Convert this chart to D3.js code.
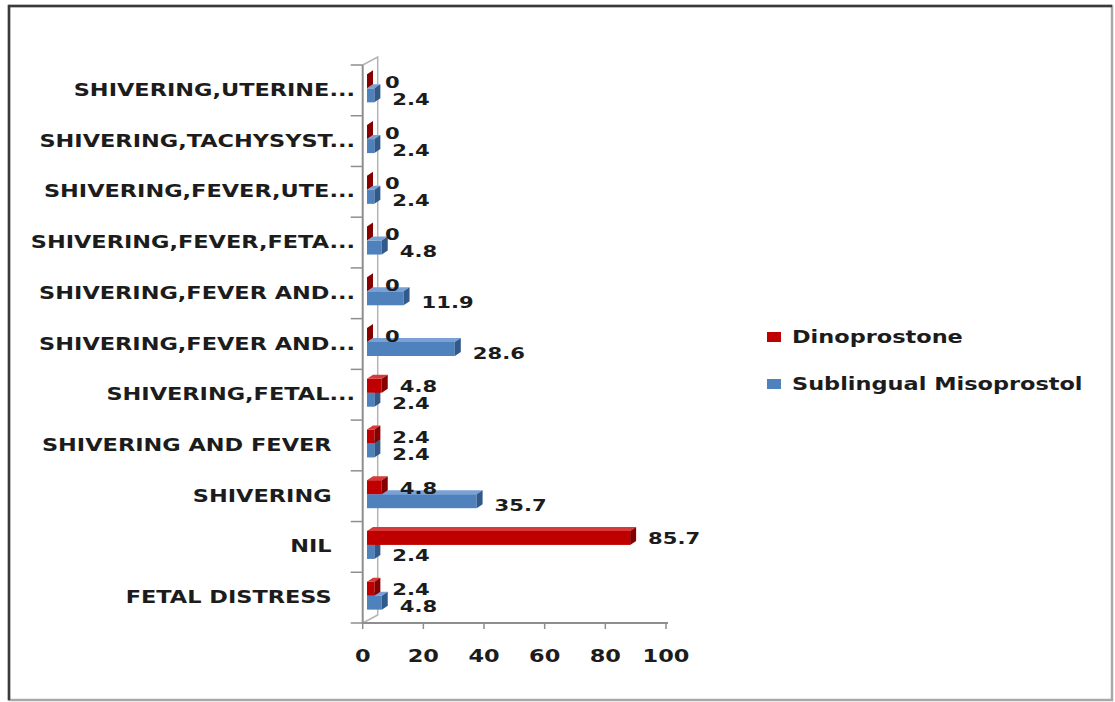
<!DOCTYPE html>
<html>
<head>
<meta charset="utf-8">
<script src="https://cdn.jsdelivr.net/npm/d3@7"></script>
<style>
  html, body { margin: 0; padding: 0; background: #fff; }
  svg { display: block; }
  text { font-family: "DejaVu Sans", sans-serif; font-weight: bold; fill: #1c1c1c; white-space: pre; }
</style>
</head>
<body>
<svg id="chart" width="1115" height="702"></svg>
<script>
// Adverse effects by group (%), listed top to bottom as shown on the category axis
const categories = [
  "SHIVERING,UTERINE...",
  "SHIVERING,TACHYSYST...",
  "SHIVERING,FEVER,UTE...",
  "SHIVERING,FEVER,FETA...",
  "SHIVERING,FEVER AND...",
  "SHIVERING,FEVER AND...",
  "SHIVERING,FETAL...",
  "SHIVERING AND FEVER\u00a0\u00a0\u00a0",
  "SHIVERING\u00a0\u00a0\u00a0",
  "NIL\u00a0\u00a0\u00a0",
  "FETAL DISTRESS\u00a0\u00a0\u00a0"
];
const dinoprostone = [0, 0, 0, 0, 0, 0, 4.8, 2.4, 4.8, 85.7, 2.4];
const misoprostol  = [2.4, 2.4, 2.4, 4.8, 11.9, 28.6, 2.4, 2.4, 35.7, 2.4, 4.8];
const seriesNames = ["Dinoprostone", "Sublingual Misoprostol"];
const xTicks = [0, 20, 40, 60, 80, 100];

const svg = d3.select("#chart");
const SX = 1.32;        // horizontal stretch of all lettering

function label(g, x, y, str, anchor, size) {
  return g.append("text")
    .attr("transform", `translate(${x},${y}) scale(${SX},1)`)
    .attr("text-anchor", anchor || "start")
    .attr("dominant-baseline", "central")
    .attr("font-size", size || 17)
    .text(str);
}

// outer frame
svg.append("rect").attr("x", 9).attr("y", 6).attr("width", 1103).attr("height", 694)
  .attr("fill", "none").attr("stroke", "#a8a8a8").attr("stroke-width", 2.5);
svg.append("path").attr("d", "M9,700 L9,6 L1112,6")
  .attr("fill", "none").attr("stroke", "#3a3a3a").attr("stroke-width", 2.5);

// scales: front plane of the wall and the plane the bars sit in
const x = d3.scaleLinear().domain([0, 100]).range([362.7, 666]);
const xb = d3.scaleLinear().domain([0, 100]).range([367, 674]);
const idx = d3.range(categories.length);
const y = d3.scaleBand().domain(idx).range([65, 623]);
const yb = d3.scaleBand().domain(idx).range([63, 621]);

const depth = { dx: 15, dy: -8 };   // wall depth
const bar = { h: 14, dx: 6, dy: -4 }; // bar thickness and depth

// wall outline
const wall = svg.append("g").attr("fill", "none");
wall.append("path")
  .attr("d", `M${x(0)},${y.range()[0]} L${x(0) + depth.dx},${y.range()[0] + depth.dy} L${x(0) + depth.dx},${y.range()[1] + depth.dy} L${x(0)},${y.range()[1]}`)
  .attr("stroke", "#b4b4b4").attr("stroke-width", 1.5);
wall.append("line")
  .attr("x1", x(0)).attr("x2", x(0)).attr("y1", y.range()[0]).attr("y2", y.range()[1])
  .attr("stroke", "#8e8e8e").attr("stroke-width", 2);

// category axis ticks at band edges
const edges = idx.map(i => y(i)).concat([y.range()[1]]);
wall.selectAll("line.ct").data(edges).join("line")
  .attr("x1", x(0) - 12).attr("x2", x(0))
  .attr("y1", d => d).attr("y2", d => d)
  .attr("stroke", "#8e8e8e").attr("stroke-width", 1.5);

// value axis
wall.append("line")
  .attr("x1", x(0) - 1).attr("x2", x(100) + 2).attr("y1", y.range()[1]).attr("y2", y.range()[1])
  .attr("stroke", "#8e8e8e").attr("stroke-width", 2);
wall.selectAll("line.vt").data(xTicks).join("line")
  .attr("x1", d => x(d)).attr("x2", d => x(d))
  .attr("y1", y.range()[1]).attr("y2", y.range()[1] + 6)
  .attr("stroke", "#8e8e8e").attr("stroke-width", 1.5);

const txt = svg.append("g");
xTicks.forEach(t => label(txt, x(t), 656, String(t), "middle"));
categories.forEach((c, i) => label(txt, 355, y(i) + y.bandwidth() / 2, c, "end"));

// bars
const palette = [
  { front: "#c00000", top: "#d83a3a", side: "#870000" },
  { front: "#4f81bd", top: "#79a1d6", side: "#31598a" }
];
const series = [dinoprostone, misoprostol];
const labelShift = [1, 4];
const barsG = svg.append("g");

function drawBar(i, s) {
  const v = series[s][i];
  const c = yb(i) + yb.bandwidth() / 2;
  const y0 = s === 0 ? c - bar.h : c;
  const y1 = y0 + bar.h;
  const xL = xb(0), xR = xb(v);
  const col = palette[s];
  const g = barsG.append("g");
  g.append("rect").attr("x", xL).attr("y", y0).attr("width", xR - xL).attr("height", bar.h).attr("fill", col.front);
  g.append("polygon")
    .attr("points", [[xL, y0], [xL + bar.dx, y0 + bar.dy], [xR + bar.dx, y0 + bar.dy], [xR, y0]].join(" "))
    .attr("fill", col.top);
  g.append("polygon")
    .attr("points", [[xR, y0], [xR + bar.dx, y0 + bar.dy], [xR + bar.dx, y1 + bar.dy], [xR, y1]].join(" "))
    .attr("fill", col.side);
  label(txt, xR + 18, (y0 + y1) / 2 + labelShift[s], String(v), "start", 16);
}
idx.forEach(i => { drawBar(i, 1); drawBar(i, 0); });
txt.raise();

// legend
const leg = svg.append("g");
const legRows = [337, 384];
seriesNames.forEach((n, s) => {
  leg.append("rect").attr("x", 767).attr("y", legRows[s] - 5).attr("width", 14).attr("height", 10)
    .attr("fill", palette[s].front);
  label(leg, 792, legRows[s], n, "start");
});
</script>
</body>
</html>
